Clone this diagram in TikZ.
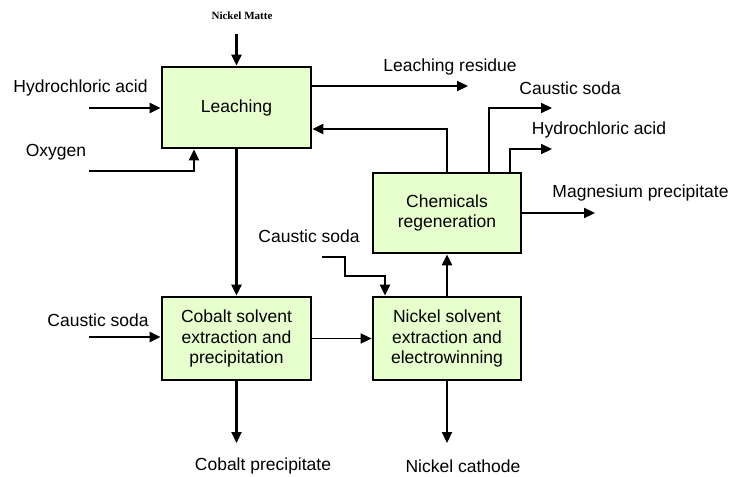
\documentclass[tikz,border=0pt]{standalone}
\usepackage{fontspec}
\setmainfont{Liberation Sans}
\newfontfamily\timesfont{Liberation Serif}
\usetikzlibrary{arrows.meta}
\definecolor{boxgreen}{RGB}{230,255,204}
\begin{document}
\begin{tikzpicture}[x=1pt,y=-1pt,
  proc/.style={draw,line width=2.7pt,fill=boxgreen,align=center,font=\fontsize{17.5}{20.5}\selectfont,inner sep=0pt},
  lbl/.style={font=\fontsize{17.5}{20.5}\selectfont,inner sep=0pt},
  flow/.style={line width=2.2pt,-{Triangle[length=11pt,width=10pt]}},
  thinflow/.style={line width=1.5pt,-{Triangle[length=11pt,width=10pt]}}]
\useasboundingbox (0,0) rectangle (729,477);
% process boxes
\node[proc,minimum width=149pt,minimum height=81pt] (leach) at (236.5,107.5) {Leaching};
\node[proc,minimum width=149pt,minimum height=83pt] (cobalt) at (236.5,338.5) {Cobalt solvent\\extraction and\\precipitation};
\node[proc,minimum width=148pt,minimum height=83pt] (nickel) at (447,338.5) {Nickel solvent\\extraction and\\electrowinning};
\node[proc,minimum width=148pt,minimum height=80pt] (chem) at (447,213) {Chemicals\\regeneration};
% labels
\node[inner sep=0pt,font=\timesfont\bfseries\fontsize{11}{13}\selectfont] (nmt) at (242,16) {Nickel Matte};
\node[lbl] (hclt) at (80.5,88) {Hydrochloric acid};
\node[lbl] (oxyt) at (56,152) {Oxygen};
\node[lbl] (rest) at (450,67) {Leaching residue};
\node[lbl] (cs1t) at (570,88) {Caustic soda};
\node[lbl] (hc2t) at (599,130) {Hydrochloric acid};
\node[lbl] (mgt) at (640.5,193) {Magnesium precipitate};
\node[lbl] (csmt) at (309,236) {Caustic soda};
\node[lbl] (cslt) at (98,320) {Caustic soda};
\node[lbl] (cpt) at (263,466) {Cobalt precipitate};
\node[lbl] (nct) at (463,466) {Nickel cathode};
% free ends
\coordinate (nm) at (236.5,34);
\coordinate (hcl) at (89,108);
\coordinate (oxy) at (89,171);
\coordinate (oxyx) at (194,0);
\coordinate (res) at (468,86);
\coordinate (ret) at (447,129);
\coordinate (cs1x) at (489,0);
\coordinate (cs1) at (552,108);
\coordinate (hc2x) at (510,0);
\coordinate (hc2) at (552,149);
\coordinate (mg) at (595,213);
\coordinate (csl) at (89,337);
\coordinate (csm) at (322,257);
\coordinate (csm2) at (345,276);
\coordinate (csmx) at (385,0);
\coordinate (cp) at (236.5,443);
\coordinate (nc) at (447,443);
% connectors
\draw[flow] (nm) -- (leach.north);
\draw[flow] (hcl) -- (hcl -| leach.west);
\draw[flow] (oxy) -| (oxyx |- leach.south);
\draw[flow] (res -| leach.east) -- (res);
\draw[flow] (chem.north) |- (ret -| leach.east);
\draw[flow] (cs1x |- chem.north) |- (cs1);
\draw[flow] (hc2x |- chem.north) |- (hc2);
\draw[flow] (mg -| chem.east) -- (mg);
\draw[flow] (leach.south) -- (cobalt.north);
\draw[flow] (csl) -- (csl -| cobalt.west);
\draw[thinflow] (cobalt.east) -- (nickel.west);
\draw[flow] (csm) -| (csm2) -| (csmx |- nickel.north);
\draw[flow] (nickel.north) -- (chem.south);
\draw[flow] (cobalt.south) -- (cp);
\draw[flow] (nickel.south) -- (nc);
\end{tikzpicture}
\end{document}
